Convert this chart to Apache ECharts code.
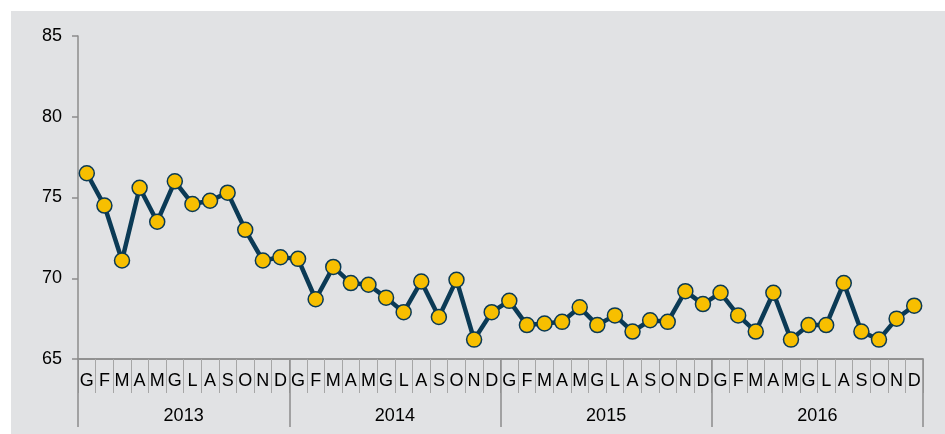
<!DOCTYPE html>
<html><head><meta charset="utf-8">
<script src="https://cdn.jsdelivr.net/npm/echarts@6/dist/echarts.min.js"></script>
<style>html,body{margin:0;padding:0;background:#fff}#c{width:945px;height:434px}</style>
</head><body><div id="c"></div>
<script>
var months = ['G','F','M','A','M','G','L','A','S','O','N','D'];
var years = ['2013','2014','2015','2016'];
var values2013 = [76.5,74.5,71.1,75.6,73.5,76.0,74.6,74.8,75.3,73.0,71.1,71.3];
var values2014 = [71.2,68.7,70.7,69.7,69.6,68.8,67.9,69.8,67.6,69.9,66.2,67.9];
var values2015 = [68.6,67.1,67.2,67.3,68.2,67.1,67.7,66.7,67.4,67.3,69.2,68.4];
var values2016 = [69.1,67.7,66.7,69.1,66.2,67.1,67.1,69.7,66.7,66.2,67.5,68.3];
var yTicks = [65,70,75,80,85];

var cats = [], vals = [];
[values2013,values2014,values2015,values2016].forEach(function(arr,yi){
  arr.forEach(function(v,mi){ cats.push(years[yi]+'-'+mi); vals.push(v); });
});

var chart = echarts.init(document.getElementById('c'));
var font = 'Liberation Sans, Arial, sans-serif';
chart.setOption({
  animation:false,
  graphic:[{type:'rect',z:-10,left:11,top:11,shape:{width:934,height:423},style:{fill:'#e1e2e4'}}],
  grid:{left:78,right:22,top:36,bottom:75},
  xAxis:[{
    type:'category', data:cats, boundaryGap:true,
    axisLine:{lineStyle:{color:'#8c8c8c',width:1.5}},
    axisTick:{show:true,interval:0,length:34,lineStyle:{color:'#a6a6a6',width:1}},
    axisLabel:{interval:0,margin:13,fontSize:18,color:'#000',fontFamily:font,
      formatter:function(v){return months[+v.split('-')[1]];}}
  },{
    type:'category', data:years, position:'bottom', boundaryGap:true,
    axisLine:{lineStyle:{color:'#8c8c8c',width:1.5}},
    axisTick:{show:true,interval:0,length:68,lineStyle:{color:'#8c8c8c',width:1.5}},
    axisLabel:{interval:0,margin:48,fontSize:18,color:'#000',fontFamily:font}
  }],
  yAxis:{
    type:'value', min:yTicks[0], max:yTicks[yTicks.length-1], interval:5,
    splitLine:{show:false},
    axisLine:{show:true,lineStyle:{color:'#8c8c8c',width:1.5}},
    axisTick:{show:true,length:6,lineStyle:{color:'#8c8c8c',width:1.5}},
    axisLabel:{fontSize:18,color:'#000',margin:16,fontFamily:font}
  },
  series:[{
    type:'line', data:vals, xAxisIndex:0,
    lineStyle:{color:'#0b3a55',width:4.5},
    symbol:'circle', symbolSize:15,
    itemStyle:{color:'#f7bf00',borderColor:'#0b3a55',borderWidth:1.5}
  }]
});
</script></body></html>
